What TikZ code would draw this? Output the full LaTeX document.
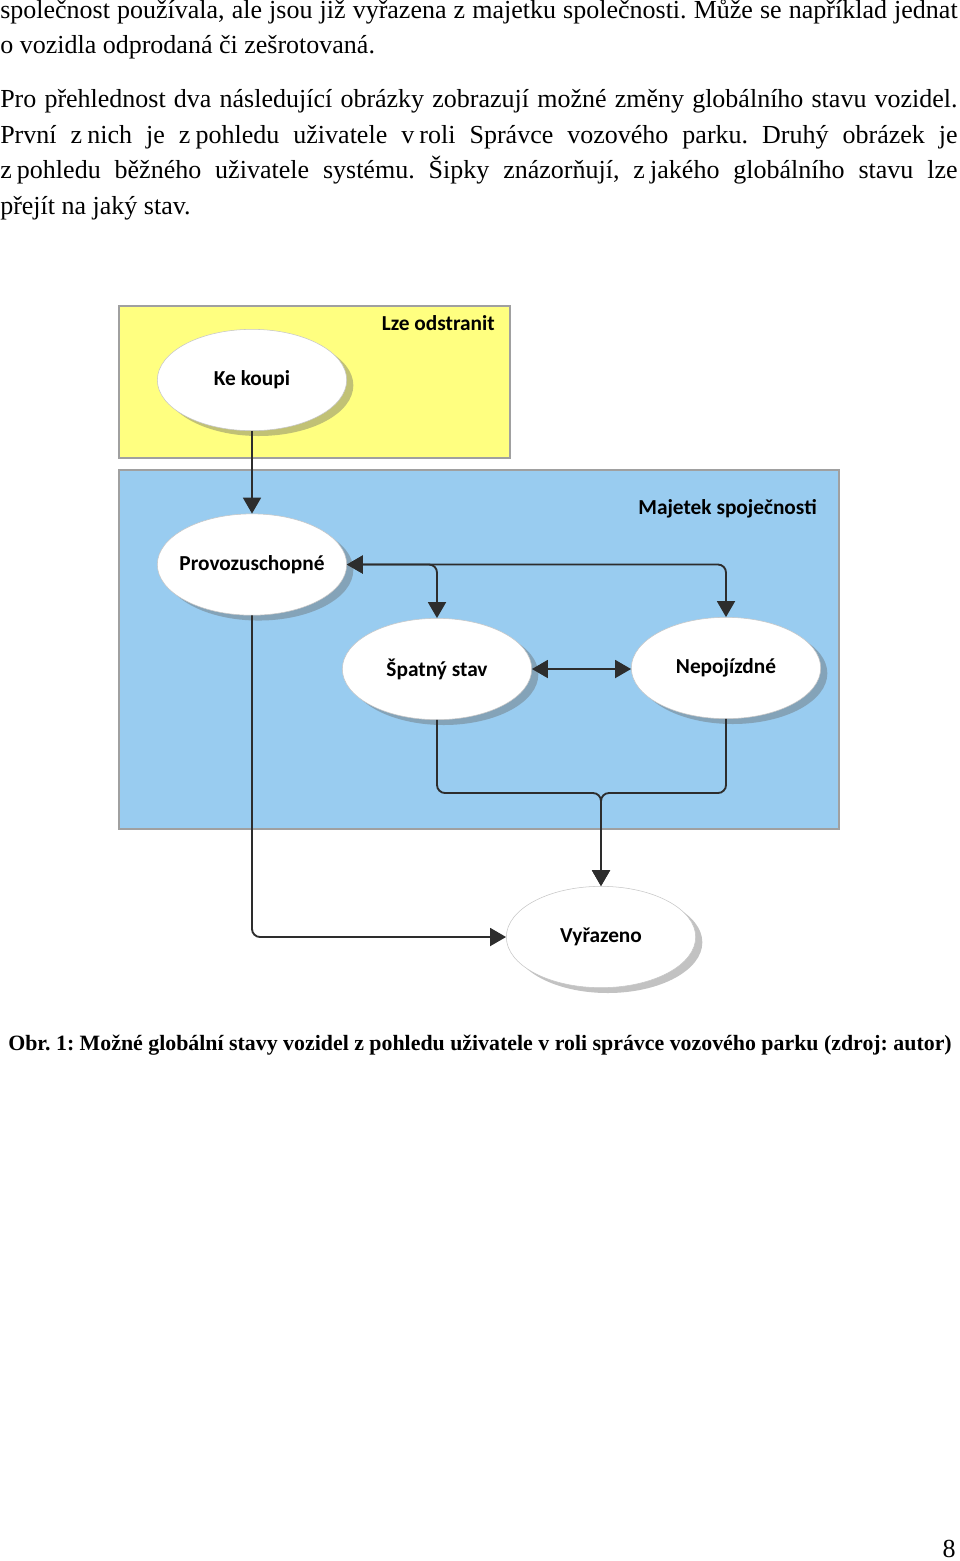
\documentclass[tikz,border=0pt]{standalone}
\usepackage{fontspec}
\setmainfont{Liberation Serif}
\newfontfamily\diagfont{Carlito}
\usepackage{tikz}
\usetikzlibrary{shapes.geometric, arrows.meta, positioning, shadows}

\definecolor{lzeyellow}{RGB}{255,255,128}
\definecolor{majetekblue}{RGB}{153,204,240}
\definecolor{boxgray}{RGB}{160,160,160}
\definecolor{linkgray}{RGB}{45,45,45}

\newcommand{\bodysize}{\fontsize{19.5}{24}\selectfont}
\frenchspacing

\begin{document}
\begin{tikzpicture}[
        x=0.75pt, y=-0.75pt,
        state/.style={ellipse, draw=gray!45, fill=white, minimum width=142pt, minimum height=76pt, inner sep=-25pt,
            font=\diagfont\bfseries\fontsize{16}{19}\selectfont,
            drop shadow={shadow xshift=5pt, shadow yshift=-4pt, fill=black!60, opacity=0.4}},
        area/.style={draw=boxgray, line width=2pt},
        arealabel/.style={anchor=base east, inner sep=0pt, font=\diagfont\bfseries\fontsize{16}{19}\selectfont},
        link/.style={-{Triangle[width=13.5pt,length=12pt]}, line width=1.4pt, draw=linkgray, rounded corners=6pt},
        bilink/.style={link, {Triangle[width=13.5pt,length=12pt]}-{Triangle[width=13.5pt,length=12pt]}},
        bodytext/.style={anchor=base west, inner sep=0pt, font=\bodysize}
    ]
    \useasboundingbox (0,0) rectangle (960,1561);

    % Text above the figure
    \node[bodytext] (line1) at (0,18) {\makebox[718pt][s]{společnost používala, ale jsou již vyřazena z majetku společnosti. Může se například jednat}};
    \node[bodytext] (line2) at (0,53.5) {o~vozidla odprodaná či zešrotovaná.};
    \node[bodytext] (line3) at (0,107.5) {\makebox[718pt][s]{Pro přehlednost dva následující obrázky zobrazují možné změny globálního stavu vozidel.}};
    \node[bodytext] (line4) at (0,143) {\makebox[718pt][s]{První z\hspace{0.2em}nich je z\hspace{0.2em}pohledu uživatele v\hspace{0.2em}roli Správce vozového parku. Druhý obrázek je}};
    \node[bodytext] (line5) at (0,178.5) {\makebox[718pt][s]{z\hspace{0.2em}pohledu běžného uživatele systému. Šipky znázorňují, z\hspace{0.2em}jakého globálního stavu lze}};
    \node[bodytext] (line6) at (0,214) {přejít na jaký stav.};

    % Areas
    \draw[area, fill=lzeyellow] (119,306) rectangle (510,458);
    \draw[area, fill=majetekblue] (119,470) rectangle (839,829);
    \node[arealabel] (lze) at (495,330) {Lze odstranit};
    \node[arealabel] (majetek) at (817,514) {Majetek spoječnosti};

    % States
    \node[state] (kekoupi) at (252,380) {Ke koupi};
    \node[state, below=62pt of kekoupi] (prov) {Provozuschopné};
    \node[state] (spatny) at (437,669) {Špatný stav};
    \node[state] (nepo) at (726,668) {Nepojízdné};
    \node[state] (vyr) at (601,937) {Vyřazeno};
    \coordinate (join) at (601,793);

    % Transitions
    \draw[link] (kekoupi) -- (prov);
    \draw[bilink] (prov.east) -| (spatny.north);
    \draw[bilink] (prov.east) -| (nepo.north);
    \draw[bilink] (spatny) -- (spatny -| nepo.west);
    \draw[link] (spatny.south) |- (join) -- (vyr.north);
    \draw[link] (nepo.south) |- (join) -- (vyr.north);
    \draw[link] (prov.south) |- (vyr.west);

    % Caption and page number
    \node[anchor=base west, inner sep=0pt, font=\bfseries\fontsize{16.4}{20}\selectfont] (caption) at (8,1050) {Obr. 1: Možné globální stavy vozidel z~pohledu uživatele v~roli správce vozového parku (zdroj: autor)};
    \node[anchor=base east, inner sep=0pt, font=\bodysize] (pagenum) at (956,1557) {8};
\end{tikzpicture}
\end{document}
